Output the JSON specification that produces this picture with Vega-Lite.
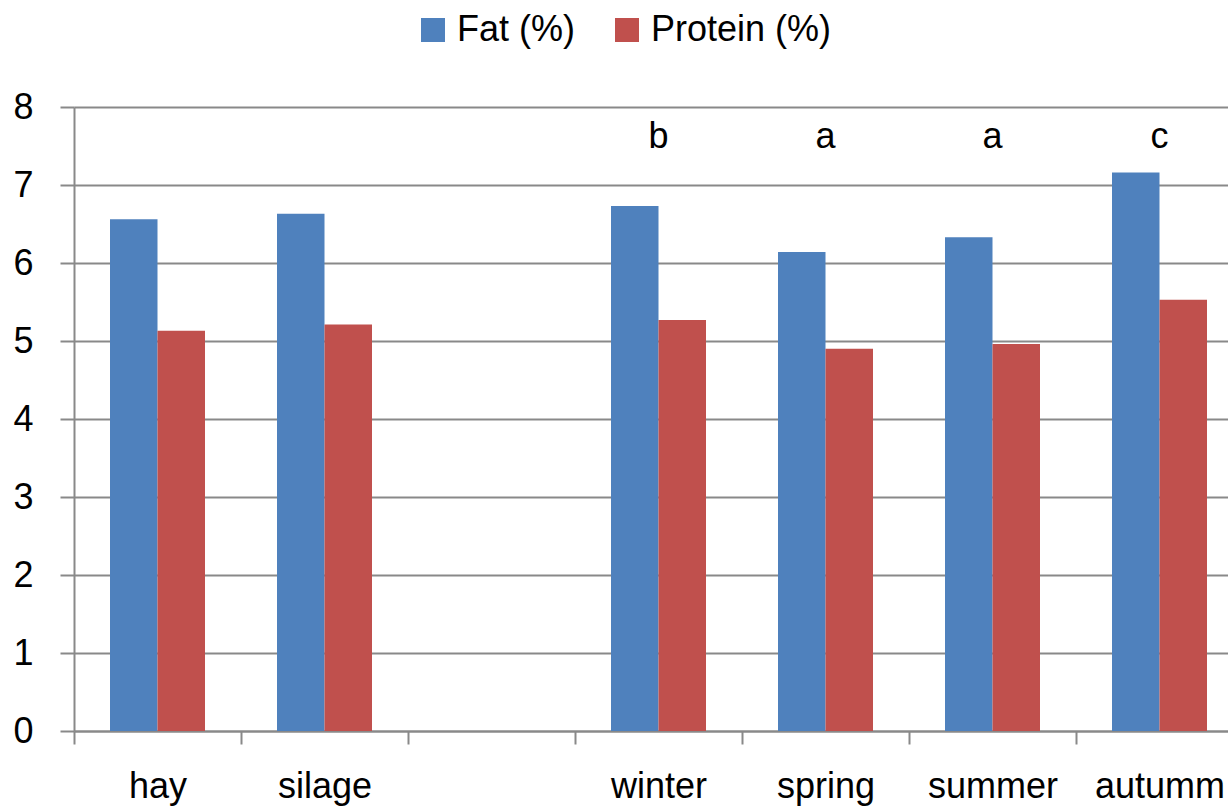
{
  "$schema": "https://vega.github.io/schema/vega-lite/v6.json",
  "autosize": {"type": "none"},
  "width": 1154,
  "height": 624,
  "padding": {"left": 74, "top": 107, "right": 0, "bottom": 75},
  "background": "white",
  "config": {
    "view": {"stroke": null},
    "font": "Liberation Sans",
    "axis": {"labelFont": "Liberation Sans", "labelColor": "black"},
    "legend": {"labelFont": "Liberation Sans"}
  },
  "datasets": {
    "bars": [
      {"category": "hay", "series": "Fat (%)", "value": 6.56},
      {"category": "hay", "series": "Protein (%)", "value": 5.13},
      {"category": "silage", "series": "Fat (%)", "value": 6.63},
      {"category": "silage", "series": "Protein (%)", "value": 5.21},
      {"category": "winter", "series": "Fat (%)", "value": 6.73},
      {"category": "winter", "series": "Protein (%)", "value": 5.27},
      {"category": "spring", "series": "Fat (%)", "value": 6.14},
      {"category": "spring", "series": "Protein (%)", "value": 4.9},
      {"category": "summer", "series": "Fat (%)", "value": 6.33},
      {"category": "summer", "series": "Protein (%)", "value": 4.96},
      {"category": "autumm", "series": "Fat (%)", "value": 7.16},
      {"category": "autumm", "series": "Protein (%)", "value": 5.53}
    ],
    "letters": [
      {"category": "winter", "letter": "b", "pos": 7.47},
      {"category": "spring", "letter": "a", "pos": 7.47},
      {"category": "summer", "letter": "a", "pos": 7.47},
      {"category": "autumm", "letter": "c", "pos": 7.47}
    ]
  },
  "layer": [
    {
      "data": {"name": "bars"},
      "mark": {"type": "bar"},
      "encoding": {
        "x": {
          "field": "category",
          "type": "nominal",
          "sort": null,
          "scale": {
            "domain": ["hay", "silage", "", "winter", "spring", "summer", "autumm"],
            "range": [0, 1169],
            "paddingInner": 0,
            "paddingOuter": 0
          },
          "axis": {
            "title": null,
            "labelAngle": 0,
            "labelFontSize": 36,
            "labelPadding": 25,
            "labelLimit": 0,
            "tickBand": "extent",
            "tickSize": 13,
            "tickWidth": 2,
            "tickColor": "#898989",
            "domainColor": "#898989",
            "domainWidth": 2,
            "grid": false
          }
        },
        "xOffset": {
          "field": "series",
          "type": "nominal",
          "scale": {"paddingInner": 0, "paddingOuter": 0.758}
        },
        "y": {
          "field": "value",
          "type": "quantitative",
          "scale": {"domain": [0, 8], "nice": false},
          "axis": {
            "title": null,
            "values": [0, 1, 2, 3, 4, 5, 6, 7, 8],
            "format": "d",
            "labelFontSize": 36,
            "labelPadding": 27,
            "tickSize": 14,
            "tickWidth": 2,
            "tickColor": "#898989",
            "grid": true,
            "gridColor": "#898989",
            "gridWidth": 2,
            "domainColor": "#898989",
            "domainWidth": 2
          }
        },
        "color": {
          "field": "series",
          "type": "nominal",
          "scale": {"domain": ["Fat (%)", "Protein (%)"], "range": ["#4F81BD", "#C0504D"]},
          "legend": {
            "title": null,
            "orient": "none",
            "direction": "horizontal",
            "legendX": 341,
            "legendY": -95,
            "symbolType": "square",
            "symbolSize": 576,
            "symbolStrokeWidth": 0,
            "labelFontSize": 36,
            "labelLimit": 0,
            "labelColor": "black",
            "labelOffset": 6,
            "columnPadding": 33
          }
        }
      }
    },
    {
      "data": {"name": "letters"},
      "mark": {"type": "text", "fontSize": 36, "baseline": "alphabetic", "align": "center", "color": "black"},
      "encoding": {
        "x": {"field": "category", "type": "nominal", "sort": null},
        "y": {"field": "pos", "type": "quantitative"},
        "text": {"field": "letter"}
      }
    }
  ]
}
